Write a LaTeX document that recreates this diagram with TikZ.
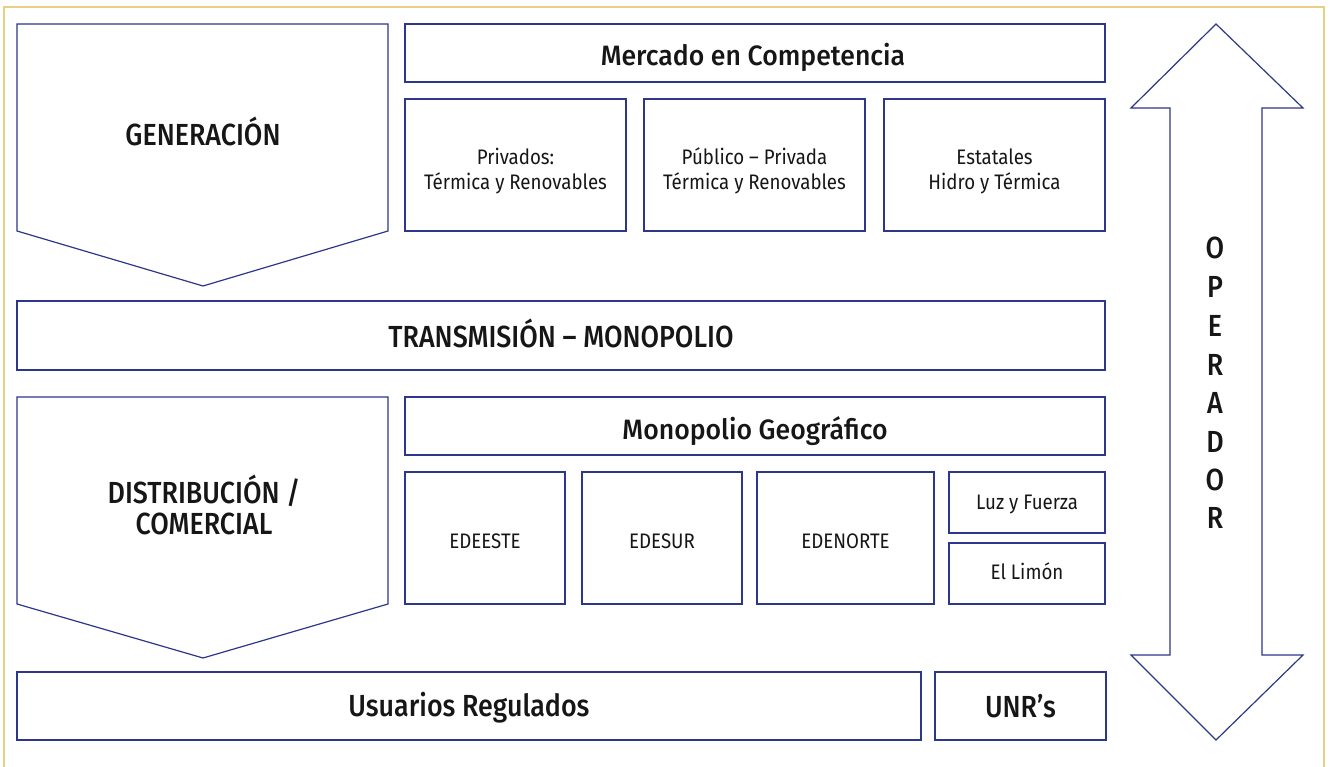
\documentclass[tikz,border=0pt]{standalone}
\usepackage{fontspec}
\setmainfont{Fira Sans}[FakeStretch=0.89]
\newfontfamily\fuentetitulo{Fira Sans Medium}[FakeStretch=0.88]
\newfontfamily\fuentesub{Fira Sans Medium}[FakeStretch=0.95]
\definecolor{azulsen}{RGB}{44,54,138}
\definecolor{oromarco}{RGB}{232,206,134}
\definecolor{tinta}{RGB}{22,22,22}
\tikzset{
  caja/.style={draw=azulsen, line width=1.2pt},
  titulo/.style={text=tinta, font=\fuentetitulo\fontsize{30.5}{31}\selectfont, inner sep=0pt},
  subtitulo/.style={text=tinta, font=\fuentesub\fontsize{28}{29}\selectfont, inner sep=0pt},
  texto/.style={text=tinta, font=\fontsize{21}{25}\selectfont, inner sep=0pt, align=center}
}
\begin{document}
\begin{tikzpicture}[x=1pt,y=-1pt]
\useasboundingbox (0,0) rectangle (1331,767);
%marco
  \draw[oromarco, line width=1.3pt] (4,767) -- (4,7) -- (1324,7) -- (1324,767);
%generacion
  \draw[caja] (17,24) -- (388,24) -- (388,231) -- (203,286) -- (17,231) -- cycle;
  \node[titulo, anchor=base] (gen) at (203,146) {GENERACIÓN};
  \draw[caja] (405,24) rectangle (1105,82);
  \node[subtitulo, anchor=base] (mercado) at (753,66) {Mercado en Competencia};
  \draw[caja] (405,99) rectangle (626,231);
  \draw[caja] (644,99) rectangle (865,231);
  \draw[caja] (884,99) rectangle (1105,231);
  \node[texto] (privados) at (515.5,171) {Privados:\\Térmica y Renovables};
  \node[texto] (mixta) at (754.5,171) {Público – Privada\\Térmica y Renovables};
  \node[texto] (estatales) at (994.5,171) {Estatales\\Hidro y Térmica};
%transmision
  \draw[caja] (17,301) rectangle (1105,370);
  \node[titulo, anchor=base] (trans) at (561,348) {TRANSMISIÓN – MONOPOLIO};
%distribucion
  \draw[caja] (17,397) -- (388,397) -- (388,604) -- (203,658) -- (17,604) -- cycle;
  \node[titulo, anchor=base] (dist) at (204,503) {DISTRIBUCIÓN /};
  \node[titulo, anchor=base] (comer) at (204,534) {COMERCIAL};
  \draw[caja] (405,397) rectangle (1105,455);
  \node[subtitulo, anchor=base] (geo) at (755,439) {Monopolio Geográfico};
  \draw[caja] (405,472) rectangle (565,604);
  \draw[caja] (582,472) rectangle (742,604);
  \draw[caja] (757,472) rectangle (934,604);
  \draw[caja] (949,472) rectangle (1105,533);
  \draw[caja] (949,543) rectangle (1105,604);
  \node[texto, anchor=base] (edeeste) at (485,548) {EDEESTE};
  \node[texto, anchor=base] (edesur) at (662,548) {EDESUR};
  \node[texto, anchor=base] (edenorte) at (845.5,548) {EDENORTE};
  \node[texto, anchor=base] (luz) at (1027,509) {Luz y Fuerza};
  \node[texto, anchor=base] (limon) at (1027,579) {El Limón};
%usuarios
  \draw[caja] (17,672) rectangle (921,740);
  \node[titulo, anchor=base] (regulados) at (469,716) {Usuarios Regulados};
  \draw[caja] (935,672) rectangle (1106,740);
  \node[titulo, anchor=base] (unr) at (1020.5,717) {UNR’s};
%operador
  \draw[caja] (1216,24) -- (1303,108) -- (1262,108) -- (1262,655) -- (1303,655) -- (1216,740)
    -- (1131,655) -- (1170,655) -- (1170,108) -- (1131,108) -- cycle;
  \node[titulo] (op1) at (1215,248) {O};
  \node[titulo] (op2) at (1215,287) {P};
  \node[titulo] (op3) at (1215,326) {E};
  \node[titulo] (op4) at (1215,365) {R};
  \node[titulo] (op5) at (1215,403) {A};
  \node[titulo] (op6) at (1215,442) {D};
  \node[titulo] (op7) at (1215,480) {O};
  \node[titulo] (op8) at (1215,518) {R};
\end{tikzpicture}
\end{document}
